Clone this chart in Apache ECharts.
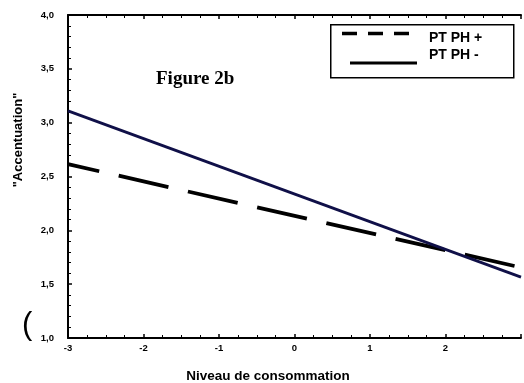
<!DOCTYPE html>
<html><head><meta charset="utf-8">
<script src="https://cdn.jsdelivr.net/npm/echarts@6/dist/echarts.min.js"></script>
<style>html,body{margin:0;padding:0;background:#fff}#c{width:524px;height:383px}</style>
</head><body><div id="c"></div>
<script>
const xTicks = [-3, -2, -1, 0, 1, 2, 3];
const yTicks = [1.0, 1.5, 2.0, 2.5, 3.0, 3.5, 4.0];
const xEnds = [-3, 3];
const ptphPlus = [2.615, 1.655];
const ptphMinus = [3.11, 1.565];
const seriesNames = ['PT PH +', 'PT PH -'];

const chart = echarts.init(document.getElementById('c'));
const fontAx = '"Liberation Sans", Arial, sans-serif';
const axCommon = {
  type: 'value',
  axisLine: {show: true, onZero: false, lineStyle: {color: '#000', width: 2}},
  axisTick: {show: true, inside: true, length: 4, lineStyle: {color: '#000', width: 1.5}},
  minorTick: {show: true, length: 3, lineStyle: {color: '#000', width: 1}},
  splitLine: {show: false}
};
const txt = (text, size, extra) => Object.assign({text: text, fontSize: size, fontWeight: 'bold', fontFamily: fontAx, fill: '#000'}, extra || {});
chart.setOption({
  animation: false,
  grid: {left: 68, top: 15, bottom: 45, right: -6},
  xAxis: [
    Object.assign({}, axCommon, {
      min: xTicks[0], max: xTicks[xTicks.length - 1], interval: 1, position: 'bottom',
      minorTick: Object.assign({}, axCommon.minorTick, {splitNumber: 4}),
      axisLabel: {show: true, margin: 5, color: '#000', fontSize: 9.5, fontWeight: 'bold', fontFamily: fontAx,
        formatter: v => (v === 3 ? '' : String(v))}
    }),
    Object.assign({}, axCommon, {
      min: xTicks[0], max: xTicks[xTicks.length - 1], interval: 1, position: 'top',
      minorTick: Object.assign({}, axCommon.minorTick, {splitNumber: 4}),
      axisLabel: {show: false}
    })
  ],
  yAxis: Object.assign({}, axCommon, {
    min: yTicks[0], max: yTicks[yTicks.length - 1], interval: 0.5,
    minorTick: Object.assign({}, axCommon.minorTick, {splitNumber: 5}),
    axisLabel: {show: true, margin: 14, color: '#000', fontSize: 9.5, fontWeight: 'bold', fontFamily: fontAx,
      formatter: v => v.toFixed(1).replace('.', ',')}
  }),
  series: [
    {name: seriesNames[0], type: 'line', showSymbol: false, silent: true,
      data: xEnds.map((x, i) => [x, ptphPlus[i]]),
      lineStyle: {color: '#000', width: 3.8, type: [51, 20], dashOffset: 19}},
    {name: seriesNames[1], type: 'line', showSymbol: false, silent: true,
      data: xEnds.map((x, i) => [x, ptphMinus[i]]),
      lineStyle: {color: '#101048', width: 2.8}}
  ],
  graphic: [
    {type: 'rect', left: 330, top: 24, shape: {width: 183, height: 53}, style: {fill: '#fff', stroke: '#000', lineWidth: 1.5}, z: 10},
    {type: 'line', shape: {x1: 342, y1: 33.5, x2: 410, y2: 33.5}, style: {stroke: '#000', lineWidth: 3.5, lineDash: [15, 11]}, z: 11},
    {type: 'line', shape: {x1: 350, y1: 63, x2: 417, y2: 63}, style: {stroke: '#000', lineWidth: 3}, z: 11},
    {type: 'text', left: 429, top: 31, style: txt(seriesNames[0], 14), z: 11},
    {type: 'text', left: 429, top: 48, style: txt(seriesNames[1], 14), z: 11},
    {type: 'text', left: 156, top: 70, style: {text: 'Figure 2b', fontSize: 19, fontWeight: 'bold', fontFamily: '"Liberation Serif", "DejaVu Serif", serif', fill: '#000'}},
    {type: 'text', left: 22, top: 310, style: {text: '(', fontSize: 31, fontFamily: fontAx, fill: '#000'}},
    {type: 'text', x: 18, y: 140, rotation: Math.PI / 2, style: txt('"Accentuation"', 13, {align: 'center', verticalAlign: 'middle'})},
    {type: 'text', x: 268, y: 376, style: txt('Niveau de consommation', 13.5, {align: 'center', verticalAlign: 'middle'})}
  ]
});
</script></body></html>
